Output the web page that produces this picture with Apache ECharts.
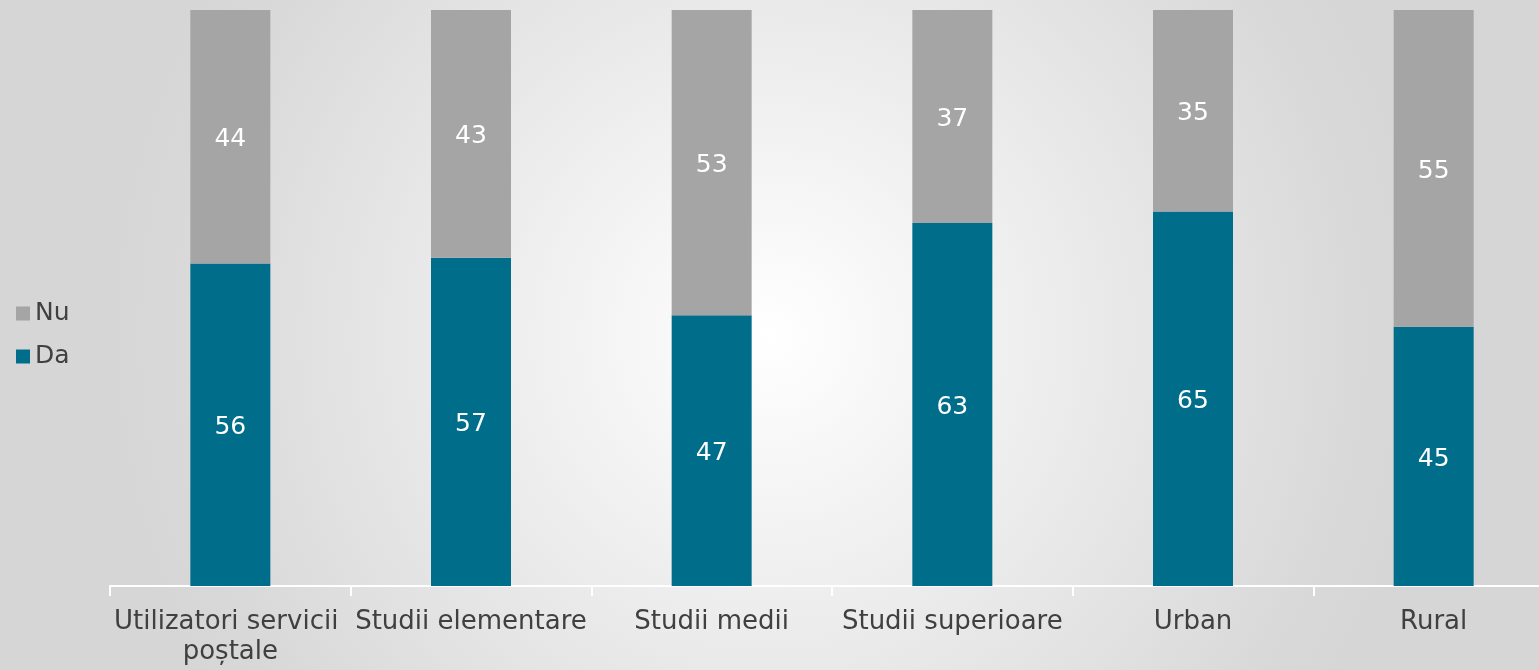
<!DOCTYPE html>
<html><head><meta charset="utf-8">
<script src="https://cdn.jsdelivr.net/npm/echarts@6/dist/echarts.min.js"></script>
<style>html,body{margin:0;padding:0}#c{width:1539px;height:670px}</style>
</head><body><div id="c"></div>
<script>
const categories = ['Utilizatori servicii poștale','Studii elementare','Studii medii','Studii superioare','Urban','Rural'];
const da = [56,57,47,63,65,45];
const nu = [44,43,53,37,35,55];

const chart = echarts.init(document.getElementById('c'));
const lbl = {show:true, position:'inside', color:'#ffffff', fontSize:25, fontFamily:'DejaVu Sans', offset:[0,3]};
chart.setOption({
  animation:false,
  backgroundColor:{type:'radial', x:0.5, y:0.5, r:1.0, colorStops:[{offset:0,color:'#ffffff'},{offset:0.9,color:'#d8d8d8'},{offset:1,color:'#d6d6d6'}]},
  textStyle:{fontFamily:'DejaVu Sans'},
  legend:{orient:'vertical', left:11, top:296, itemWidth:14, itemHeight:14, itemGap:18,
    data:['Nu','Da'], textStyle:{fontSize:25, color:'#404040', fontFamily:'DejaVu Sans'}, icon:'rect'},
  grid:{left:110, width:1444, top:10, bottom:84, containLabel:false, outerBoundsMode:'none'},
  xAxis:{type:'category', data:categories, boundaryGap:true,
    axisLine:{lineStyle:{color:'#ffffff', width:2}},
    axisTick:{show:true, length:10, lineStyle:{color:'#ffffff', width:2}},
    axisLabel:{color:'#404040', fontSize:26, fontFamily:'DejaVu Sans', margin:21, width:240, overflow:'break', lineHeight:30, interval:0}},
  yAxis:{type:'value', min:0, max:100, show:false, splitLine:{show:false}},
  series:[
    {name:'Da', type:'bar', stack:'s', data:da, barWidth:80, itemStyle:{color:'#006d8a'}, label:lbl},
    {name:'Nu', type:'bar', stack:'s', data:nu, barWidth:80, itemStyle:{color:'#a5a5a5'}, label:lbl}
  ]
});
</script></body></html>
